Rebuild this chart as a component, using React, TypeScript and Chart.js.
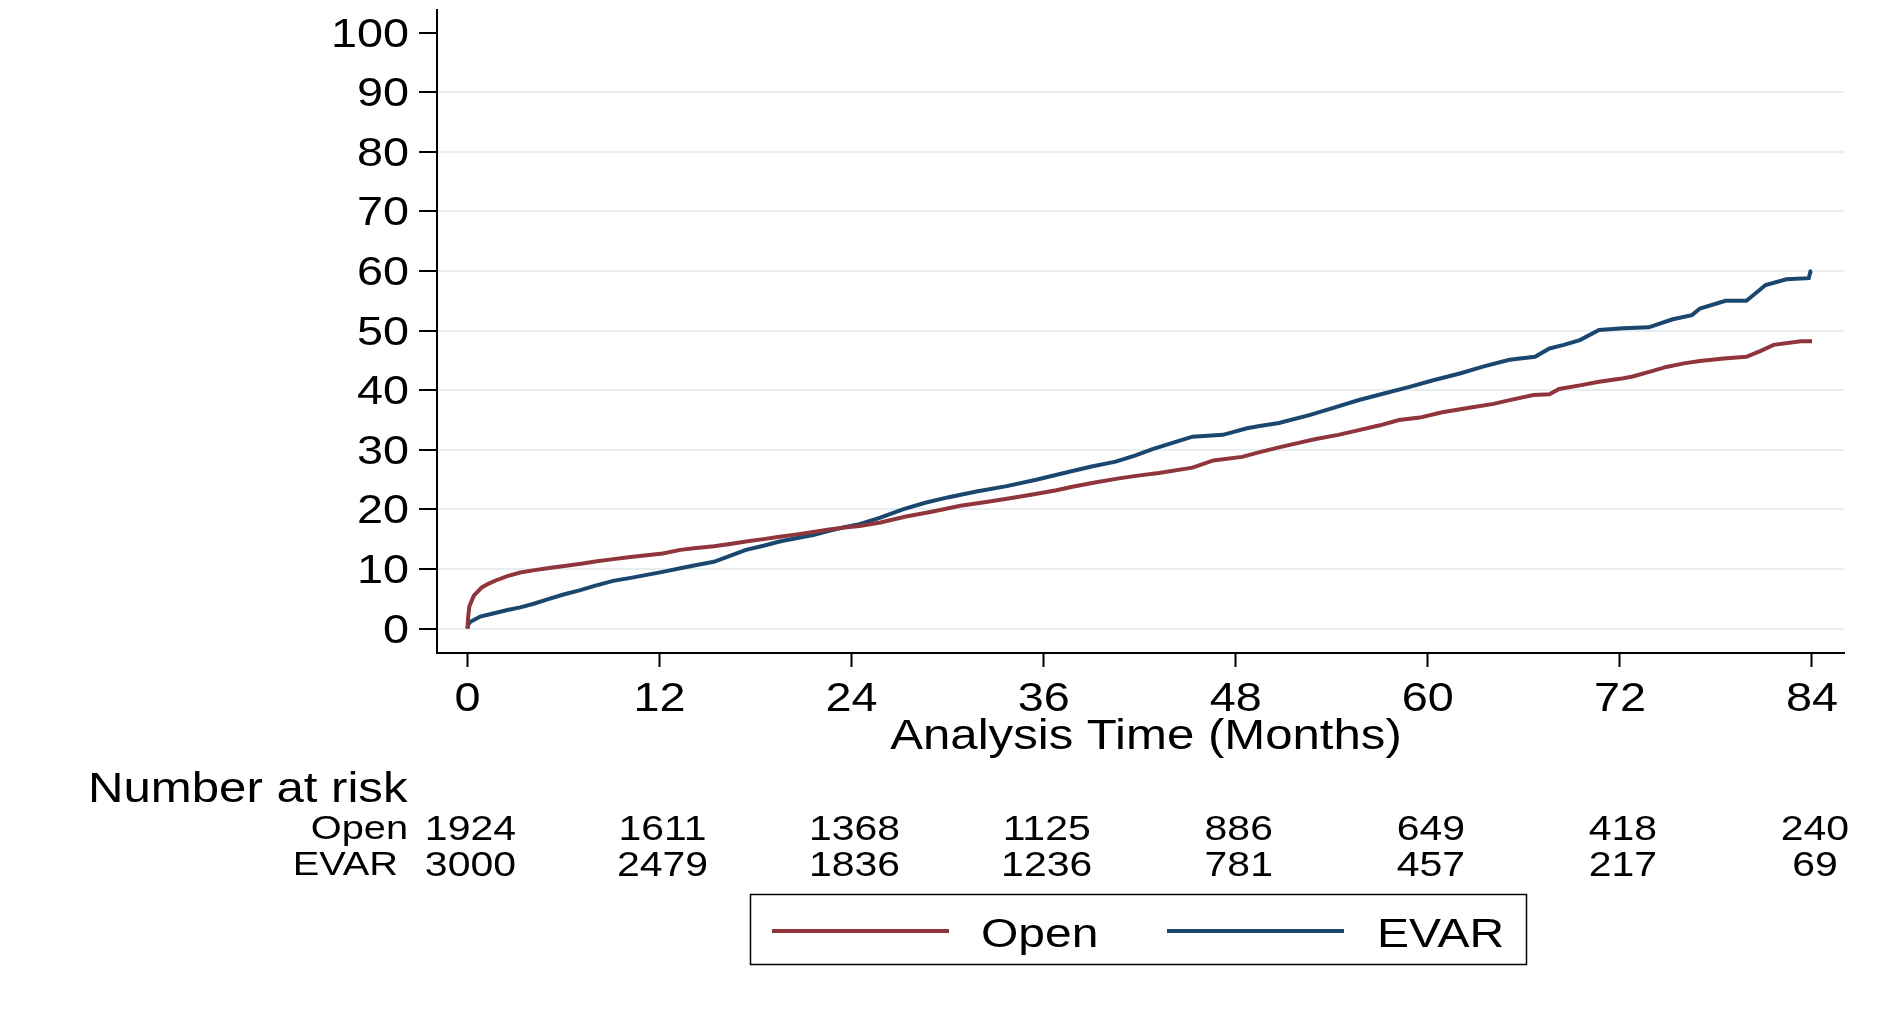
import React, { useEffect, useRef } from "react";
import { Chart, registerables } from "chart.js";

Chart.register(...registerables);

// Cumulative incidence (%) by months since repair
const OPEN_T = [0, 0.05, 0.12, 0.4, 0.9, 1.3, 1.8, 2.5, 3.3, 4.2, 5.0, 6.4, 7.2, 8.1, 9.0, 10.2, 11.2, 12.2, 13.3, 14.3, 15.4, 16.4, 17.4, 18.5, 19.5, 20.6, 21.6, 22.6, 23.7, 24.5, 25.8, 27.4, 29.0, 30.8, 32.3, 33.9, 35.3, 36.8, 37.8, 39.2, 40.7, 42.0, 43.2, 45.3, 46.6, 48.4, 49.5, 50.7, 52.0, 53.0, 54.4, 55.7, 57.0, 58.2, 59.5, 60.9, 62.5, 64.1, 65.4, 66.6, 67.6, 68.2, 69.5, 70.7, 72.0, 72.8, 74.0, 74.9, 76.0, 77.0, 78.5, 79.9, 80.8, 81.6, 83.3, 84.0];
const OPEN_Y = [0, 2.0, 3.7, 5.5, 6.9, 7.5, 8.1, 8.8, 9.4, 9.8, 10.1, 10.6, 10.9, 11.3, 11.6, 12.0, 12.3, 12.6, 13.2, 13.5, 13.8, 14.2, 14.6, 15.0, 15.4, 15.8, 16.2, 16.6, 17.0, 17.2, 17.8, 18.8, 19.6, 20.6, 21.2, 21.85, 22.5, 23.2, 23.8, 24.5, 25.2, 25.7, 26.1, 27.0, 28.2, 28.8, 29.6, 30.4, 31.2, 31.8, 32.5, 33.3, 34.1, 35.0, 35.4, 36.3, 37.0, 37.7, 38.5, 39.2, 39.3, 40.2, 40.8, 41.4, 41.9, 42.3, 43.2, 43.9, 44.5, 44.9, 45.3, 45.6, 46.6, 47.6, 48.2, 48.2];

const EVAR_T = [0, 0.05, 0.17, 0.8, 1.8, 2.5, 3.3, 4.2, 5.0, 6.0, 7.0, 8.0, 9.1, 10.2, 11.2, 12.2, 13.3, 14.4, 15.4, 16.4, 17.4, 18.5, 19.5, 20.6, 21.6, 22.6, 23.7, 24.5, 25.8, 27.2, 28.6, 30.0, 31.8, 33.7, 35.6, 37.6, 39.0, 40.5, 41.7, 42.8, 44.0, 45.3, 47.2, 48.7, 49.5, 50.7, 52.6, 54.2, 55.7, 57.2, 58.8, 60.4, 62.0, 63.5, 65.1, 66.7, 67.6, 68.5, 69.5, 70.7, 72.2, 73.8, 75.3, 76.5, 77.0, 78.6, 79.9, 80.5, 81.1, 82.4, 83.8, 83.9, 84.0];
const EVAR_Y = [0, 0.6, 1.1, 2.0, 2.65, 3.1, 3.55, 4.2, 4.9, 5.7, 6.4, 7.2, 8.0, 8.5, 9.0, 9.5, 10.1, 10.7, 11.2, 12.2, 13.2, 13.9, 14.6, 15.2, 15.7, 16.4, 17.1, 17.5, 18.6, 20.0, 21.1, 22.0, 23.0, 23.9, 25.0, 26.3, 27.2, 28.0, 29.0, 30.1, 31.1, 32.2, 32.5, 33.6, 34.0, 34.5, 35.8, 37.1, 38.35, 39.4, 40.5, 41.7, 42.8, 44.0, 45.1, 45.6, 47.0, 47.6, 48.4, 50.1, 50.4, 50.55, 51.9, 52.6, 53.7, 55.0, 55.0, 56.3, 57.65, 58.6, 58.8, 59.9, 60.0];

// Axis ticks
const X_TICKS = [0, 12, 24, 36, 48, 60, 72, 84];
const Y_TICKS = [0, 10, 20, 30, 40, 50, 60, 70, 80, 90, 100];

// Number-at-risk table, one value per x tick
const RISK_GROUPS = ["Open", "EVAR"];
const RISK_OPEN = [1924, 1611, 1368, 1125, 886, 649, 418, 240];
const RISK_EVAR = [3000, 2479, 1836, 1236, 781, 457, 217, 69];

const OPEN_COLOR = "#90353B";
const EVAR_COLOR = "#1A476F";
const FONT = '"Liberation Sans", Arial, Helvetica, sans-serif';
const STRETCH = 1.17;

function drawText(
  ctx: CanvasRenderingContext2D,
  text: string,
  x: number,
  y: number,
  align: CanvasTextAlign,
  size: number
) {
  ctx.save();
  ctx.translate(x, y + 3);
  ctx.scale(STRETCH, 1);
  ctx.font = `${size}px ${FONT}`;
  ctx.fillStyle = "#000";
  ctx.textAlign = align;
  ctx.textBaseline = "middle";
  ctx.fillText(text, 0, 0);
  ctx.restore();
}

const annotations = {
  id: "kmText",
  afterDraw(chart: any) {
    const ctx: CanvasRenderingContext2D = chart.ctx;
    const xs = chart.scales.x;
    const ys = chart.scales.y;

    Y_TICKS.forEach((v) => drawText(ctx, String(v), 409, ys.getPixelForValue(v), "right", 40));
    X_TICKS.forEach((v) => drawText(ctx, String(v), xs.getPixelForValue(v), 697, "center", 40));
    drawText(ctx, "Analysis Time (Months)", 1146, 734, "center", 42);

    drawText(ctx, "Number at risk", 88, 787, "left", 42);
    const rows = [RISK_OPEN, RISK_EVAR];
    const rowY = [827, 863];
    const labelRight = [408, 398];
    rows.forEach((row, r) => {
      drawText(ctx, RISK_GROUPS[r], labelRight[r], rowY[r], "right", 34);
      row.forEach((n, i) => {
        drawText(ctx, String(n), xs.getPixelForValue(X_TICKS[i]) + 3, rowY[r], "center", 35);
      });
    });

    // legend
    ctx.save();
    ctx.strokeStyle = "#000";
    ctx.lineWidth = 1.5;
    ctx.strokeRect(750.5, 894.5, 776, 70);
    const items = chart.data.datasets.map((d: any) => ({ label: d.label, color: d.borderColor }));
    const lineX = [772, 1167];
    const textX = [981, 1377];
    items.forEach((it: any, i: number) => {
      ctx.strokeStyle = it.color;
      ctx.lineWidth = 4;
      ctx.beginPath();
      ctx.moveTo(lineX[i], 931);
      ctx.lineTo(lineX[i] + 177, 931);
      ctx.stroke();
      drawText(ctx, it.label, textX[i], 933, "left", 41);
    });
    ctx.restore();
  },
};

export default function App() {
  const ref = useRef<HTMLCanvasElement | null>(null);

  useEffect(() => {
    if (!ref.current) return;
    const toPts = (t: number[], y: number[]) => t.map((v, i) => ({ x: v, y: y[i] }));
    const chart = new Chart(ref.current, {
      type: "line",
      data: {
        datasets: [
          {
            label: "Open",
            data: toPts(OPEN_T, OPEN_Y),
            borderColor: OPEN_COLOR,
            borderWidth: 4,
            pointRadius: 0,
            tension: 0,
            fill: false,
          },
          {
            label: "EVAR",
            data: toPts(EVAR_T, EVAR_Y),
            borderColor: EVAR_COLOR,
            borderWidth: 4,
            pointRadius: 0,
            tension: 0,
            fill: false,
          },
        ],
      },
      plugins: [annotations],
      options: {
        animation: false,
        responsive: true,
        maintainAspectRatio: false,
        layout: { padding: { left: 0, top: 10, right: 39, bottom: 0 } },
        plugins: { legend: { display: false }, tooltip: { enabled: false } },
        scales: {
          x: {
            type: "linear",
            min: -1.9,
            max: 86,
            afterBuildTicks: (s: any) => {
              s.ticks = X_TICKS.map((v) => ({ value: v }));
            },
            afterFit: (s: any) => {
              s.height = 363;
            },
            ticks: { display: false },
            grid: {
              drawOnChartArea: false,
              drawTicks: true,
              tickLength: 14,
              tickColor: "#000",
              tickWidth: 2,
            },
            border: { display: true, color: "#000", width: 2 },
          },
          y: {
            type: "linear",
            min: -4.11,
            max: 103.8,
            afterBuildTicks: (s: any) => {
              s.ticks = Y_TICKS.map((v) => ({ value: v }));
            },
            afterFit: (s: any) => {
              s.width = 437;
            },
            ticks: { display: false },
            grid: {
              color: (c: any) => (c.tick && c.tick.value === 100 ? "rgba(0,0,0,0)" : "#E6EEEF"),
              lineWidth: 2,
              drawTicks: true,
              tickLength: 18,
              tickColor: "#000",
              tickWidth: 2,
            },
            border: { display: true, color: "#000", width: 2 },
          },
        },
      },
    });
    return () => chart.destroy();
  }, []);

  return (
    <div style={{ position: "fixed", left: 0, top: 0, width: 1883, height: 1016, background: "#fff" }}>
      <canvas ref={ref} />
    </div>
  );
}
